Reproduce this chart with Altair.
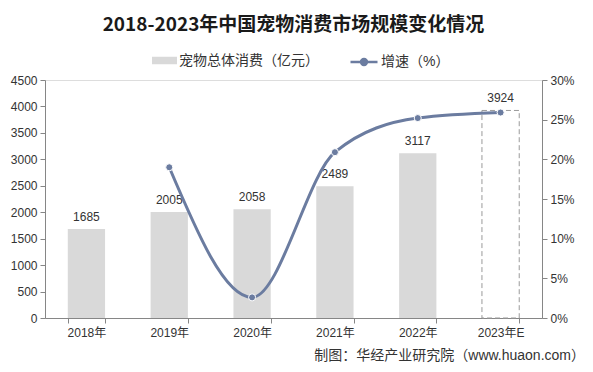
import altair as alt
import pandas as pd

years = ["2018年", "2019年", "2020年", "2021年", "2022年", "2023年E"]
spend = [1685, 2005, 2058, 2489, 3117, 3924]
growth = [None, 19.0, 2.6, 20.9, 25.2, 25.9]
forecast = [False, False, False, False, False, True]
left_ticks = [0, 500, 1000, 1500, 2000, 2500, 3000, 3500, 4000, 4500]
right_ticks = [0, 5, 10, 15, 20, 25, 30]

title_text = "2018-2023年中国宠物消费市场规模变化情况"
bar_name = "宠物总体消费（亿元）"
line_name = "增速（%）"
source_text = "制图：华经产业研究院（www.huaon.com）"

df = pd.DataFrame({"year": years, "spend": spend, "growth": growth, "forecast": forecast})
df["bar_series"] = bar_name
df["line_series"] = line_name

BAR = "#d9d9d9"
LINE = "#6b7ca0"
AXIS = "#868686"
TXT = "#333333"
FONT = "Liberation Sans, Noto Sans CJK SC"

base = alt.Chart(df)

x_enc = alt.X(
    "year:N", sort=years,
    scale=alt.Scale(paddingInner=0.55, paddingOuter=0.275),
    axis=alt.Axis(title=None, labelAngle=0, tickBand="extent", domainColor=AXIS,
                  tickColor=AXIS, tickSize=5, labelPadding=4, labelFontSize=12,
                  labelColor=TXT, labelFont=FONT),
)
y_left = alt.Y(
    "spend:Q", scale=alt.Scale(domain=[0, 4500], nice=False),
    axis=alt.Axis(title=None, values=left_ticks, format="d", grid=False, domainColor=AXIS,
                  tickColor=AXIS, tickSize=5, labelPadding=3, labelFontSize=12,
                  labelColor=TXT, labelFont=FONT),
)

bars = base.transform_filter("!datum.forecast").mark_bar().encode(
    x=x_enc, y=y_left,
    fill=alt.Fill("bar_series:N", scale=alt.Scale(domain=[bar_name], range=[BAR]),
                  legend=alt.Legend(title=None, orient="none", legendX=107, legendY=-32,
                                    padding=0, symbolType="M-1,-0.3H1V0.3H-1Z",
                                    symbolSize=625, symbolStrokeWidth=0, labelOffset=2,
                                    labelFontSize=14, labelColor=TXT, labelFont=FONT)),
)
fc_bar = base.transform_filter("datum.forecast").mark_bar(
    fill="white", fillOpacity=0, stroke="#9a9a9a", strokeDash=[5, 3], strokeWidth=1
).encode(x=x_enc, y=y_left)
labels = base.mark_text(baseline="bottom", dy=-5, fontSize=12, color=TXT, font=FONT).encode(
    x=x_enc, y=y_left, text="spend:Q"
)
left = alt.layer(bars, fc_bar, labels)

y_right = alt.Y(
    "growth:Q", scale=alt.Scale(domain=[0, 30], nice=False),
    axis=alt.Axis(title=None, orient="right", values=right_ticks, grid=False,
                  labelExpr="datum.value + '%'", domainColor=AXIS, tickColor=AXIS,
                  tickSize=5, labelPadding=3, labelFontSize=12, labelColor=TXT,
                  labelFont=FONT),
)
line = base.transform_filter("datum.growth != null").mark_line(
    interpolate="monotone", strokeWidth=3
).encode(
    x=x_enc, y=y_right,
    stroke=alt.Stroke("line_series:N", scale=alt.Scale(domain=[line_name], range=[LINE]),
                      legend=alt.Legend(title=None, orient="none", legendX=304, legendY=-33,
                                        padding=0,
                                        symbolType="M-1,0H1M0.22,0A0.22,0.22,0,1,1,-0.22,0A0.22,0.22,0,1,1,0.22,0",
                                        symbolSize=729, symbolStrokeWidth=2.5,
                                        symbolFillColor=LINE, labelOffset=2,
                                        labelFontSize=14, labelColor=TXT, labelFont=FONT)),
)
pts = base.transform_filter("datum.growth != null").mark_circle(
    size=50, color=LINE, opacity=1, stroke="white", strokeWidth=1
).encode(x=x_enc, y=y_right)
right = alt.layer(line, pts)

src = alt.Chart(pd.DataFrame({"t": [source_text]})).mark_text(
    align="right", baseline="middle", fontSize=14, color=TXT, font=FONT
).encode(x=alt.value(540), y=alt.value(276), text="t:N")

chart = alt.layer(left, right, src).resolve_scale(
    y="independent", fill="independent", stroke="independent"
).properties(
    width=497, height=238,
    padding={"left": 37, "top": 72, "right": 43, "bottom": 46},
    autosize=alt.AutoSizeParams(type="none"),
    title=alt.Title(title_text, fontSize=19, font="Noto Sans CJK SC", fontWeight="bold",
                    color="#1a1a1a", anchor="middle", offset=12),
).configure_view(stroke=None).configure(background="white")

chart.save("out.html", embed_options={"renderer": "svg", "actions": False})
